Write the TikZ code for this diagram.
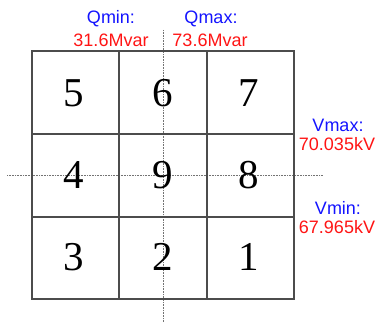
\documentclass[tikz,border=0pt]{standalone}
\usepackage{fontspec}
\setmainfont{Liberation Serif}
\newfontfamily\labelfont{Liberation Sans}
\begin{document}
\begin{tikzpicture}[x=1pt,y=-1pt,
  gridline/.style={draw=black!70,line width=1.4pt},
  axisline/.style={draw=black!55,line width=0.8pt,dash pattern=on 1pt off 0.6pt},
  cellnum/.style={font=\fontsize{41}{41}\selectfont,inner sep=0pt,anchor=center},
  lbl/.style={font=\labelfont\fontsize{18}{18}\selectfont,inner sep=0pt,anchor=center},
  lblname/.style={lbl,text={rgb,255:red,20;green,20;blue,255}},
  lblval/.style={lbl,text={rgb,255:red,255;green,20;blue,20}}]
\useasboundingbox (0,0) rectangle (376,323);
% grid corners
\coordinate (tl) at (32,51);
\coordinate (br) at (294,299);
% axes through the centre
\coordinate (vtop) at (163,30);
\coordinate (vbot) at (163,323);
\coordinate (hl) at (7,175);
\coordinate (hr) at (323,175);
\draw[axisline] (vtop) -- (vbot);
\draw[axisline] (hl) -- (hr);
% 3x3 grid
\draw[gridline] (tl) rectangle (br);
\coordinate (c1t) at (119,51); \coordinate (c1b) at (119,299);
\coordinate (c2t) at (207,51); \coordinate (c2b) at (207,299);
\coordinate (r1l) at (32,134); \coordinate (r1r) at (294,134);
\coordinate (r2l) at (32,217); \coordinate (r2r) at (294,217);
\draw[gridline] (c1t) -- (c1b);
\draw[gridline] (c2t) -- (c2b);
\draw[gridline] (r1l) -- (r1r);
\draw[gridline] (r2l) -- (r2r);
% cell numbers
\node[cellnum] (n5) at (74,93) {5};
\node[cellnum] (n6) at (163,93) {6};
\node[cellnum] (n7) at (249,93) {7};
\node[cellnum] (n4) at (74,175) {4};
\node[cellnum] (n9) at (163,175) {9};
\node[cellnum] (n8) at (249,175) {8};
\node[cellnum] (n3) at (74,257) {3};
\node[cellnum] (n2) at (163,257) {2};
\node[cellnum] (n1) at (249,257) {1};
% limits
\node[lblname] (qminl) at (111,19) {Qmin:};
\node[lblval]  (qminv) at (111,40) {31.6Mvar};
\node[lblname] (qmaxl) at (211,19) {Qmax:};
\node[lblval]  (qmaxv) at (210,40) {73.6Mvar};
\node[lblname] (vmaxl) at (338,125) {Vmax:};
\node[lblval]  (vmaxv) at (337,144) {70.035kV};
\node[lblname] (vminl) at (338,208) {Vmin:};
\node[lblval]  (vminv) at (337,227) {67.965kV};
\end{tikzpicture}
\end{document}
